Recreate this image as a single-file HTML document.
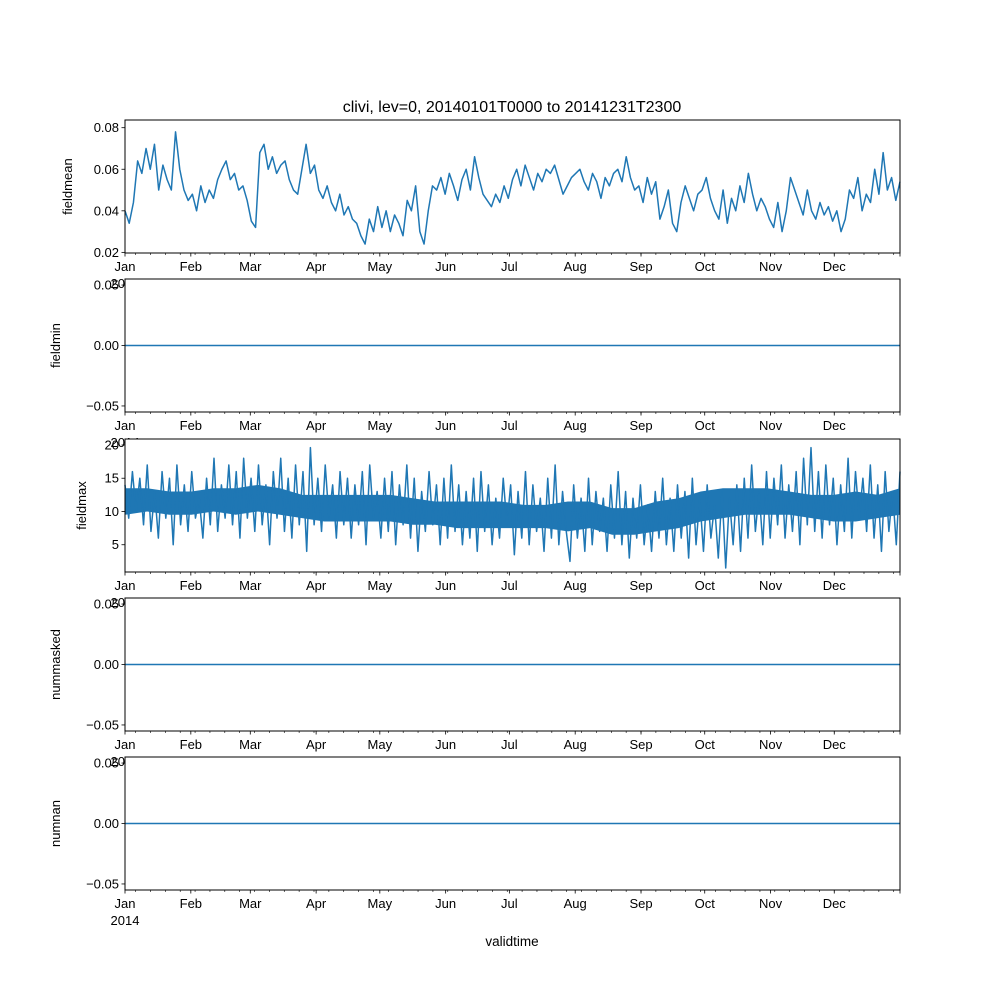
<!DOCTYPE html>
<html><head><meta charset="utf-8"><style>
html,body{margin:0;padding:0;background:#fff}
svg{display:block;font-family:"Liberation Sans","DejaVu Sans",sans-serif}
</style></head><body>
<svg id="fig" width="1000" height="1000" viewBox="0 0 1000 1000" xmlns="http://www.w3.org/2000/svg">
<rect width="1000" height="1000" fill="#fff"/>
<text x="512" y="112" font-size="16" text-anchor="middle" fill="#000">clivi, lev=0, 20140101T0000 to 20141231T2300</text>
<text x="512" y="946" font-size="13.5" text-anchor="middle" fill="#000">validtime</text>
</svg>
<script>
const monthLabels = ["Jan","Feb","Mar","Apr","May","Jun","Jul","Aug","Sep","Oct","Nov","Dec"];
const monthStarts = [0,31,59,90,120,151,181,212,243,273,304,334];
const fieldmeanValues = [
.040,.034,.044,.064,.058,.070,.060,.072,.050,.062,.055,.050,.078,.060,.050,.045,
.048,.040,.052,.044,.050,.046,.055,.060,.064,.055,.058,.050,.052,.045,
.035,.032,.068,.072,.060,.066,.058,.062,.064,.055,.050,.048,.060,.072,.058,.062,
.050,.046,.052,.044,.040,.048,.038,.042,.036,.034,.028,.024,.036,.030,.042,
.032,.040,.030,.038,.034,.028,.045,.040,.052,.030,.024,.040,.052,.050,.056,
.048,.058,.052,.045,.055,.060,.050,.066,.056,.048,.045,.042,.048,.044,.052,
.046,.055,.060,.052,.062,.056,.050,.058,.054,.060,.058,.062,.055,.048,.052,.056,
.058,.060,.054,.050,.058,.054,.046,.056,.052,.058,.060,.054,.066,.056,.050,
.052,.044,.056,.048,.054,.036,.042,.050,.034,.030,.044,.052,.046,.040,.048,
.050,.056,.046,.040,.036,.050,.034,.046,.040,.052,.044,.058,.048,.040,.046,.042,
.036,.032,.044,.030,.040,.056,.050,.044,.038,.050,.040,.036,.044,.038,.042,
.035,.040,.030,.036,.050,.046,.056,.040,.048,.044,.060,.048,.068,.050,.056,.045,.054];
const fieldmaxValues = [
14,9,16,10,15,8,17,7,13,6,16,9,15,5,17,8,14,7,16,9,12,6,15,8,18,7,14,9,17,8,
16,6,18,9,15,7,17,8,14,5,16,9,18,7,15,6,17,8,16,4,19.6,8,15,7,17,9,14,6,16,8,
15,6,14,8,16,5,17,9,13,6,15,7,16,5,14,8,17,6,15,4,13,7,16,8,14,5,15,6,17,7,
14,5,13,6,15,4,16,7,14,5,12,6,15,8,14,3.5,13,6,16,5,14,7,12,4,15,6,17,5,13,7,
2.5,14,6,12,4,15,5,13,7,12,4,14,6,16,5,13,3,12,6,14,5,11,4,13,6,15,5,12,4,14,
6,13,3,15,5,12,4,14,6,11,3,13,1.5,12,5,14,4,15,6,17,7,13,5,16,6,15,8,17,6,14,
7,16,5,18,8,19.6,7,16,6,17,8,15,5,14,7,18,6,16,9,15,7,17,6,14,4,16,7,13,5,16];
// dense core of the noisy band (half-monthly)
const fieldmaxBandHigh = [13.5,13.5,13,13,13.5,13.5,14,13.5,12.5,12.5,12.5,12.5,12.5,12,11.5,11.5,11.5,11.5,11,11,11.5,11.5,10.5,10.5,11.5,12,13,13.5,13.5,13.5,13,12.5,12.5,13,12.5,13.5];
const fieldmaxBandLow = [9.5,10,9.5,9.5,10,9.5,10,9.5,9,8.5,8.5,8.5,8.5,8,8,7.5,7.5,7.5,7.5,7.5,7,7.5,6.5,6.5,7,7.5,8.5,9,9.5,9.5,9.5,9,8.5,8.5,9,9.5];

const NS = "http://www.w3.org/2000/svg";
const svg = document.getElementById("fig");
const X0 = 125, X1 = 900, TOTAL = 364.958;
function xScale(day){ return X0 + day / TOTAL * (X1 - X0); }
function mk(tag, attrs, parent){
  const e = document.createElementNS(NS, tag);
  for (const k in attrs) e.setAttribute(k, attrs[k]);
  (parent || svg).appendChild(e);
  return e;
}

const panels = [
  {name:"fieldmean", top:120, bot:253, ymin:0.0197, ymax:0.0837, ticks:[0.02,0.04,0.06,0.08], fmt:v=>v.toFixed(2), labx:72, data:fieldmeanValues},
  {name:"fieldmin", top:279, bot:412, ymin:-0.055, ymax:0.055, ticks:[-0.05,0,0.05], fmt:v=>(v<0?"\u2212":"")+Math.abs(v).toFixed(2), labx:60, data:null},
  {name:"fieldmax", top:439, bot:572, ymin:0.9, ymax:20.9, ticks:[5,10,15,20], fmt:v=>String(v), labx:86, data:fieldmaxValues, bandHi:fieldmaxBandHigh, bandLo:fieldmaxBandLow},
  {name:"nummasked", top:598, bot:731, ymin:-0.055, ymax:0.055, ticks:[-0.05,0,0.05], fmt:v=>(v<0?"\u2212":"")+Math.abs(v).toFixed(2), labx:60, data:null},
  {name:"numnan", top:757, bot:890, ymin:-0.055, ymax:0.055, ticks:[-0.05,0,0.05], fmt:v=>(v<0?"\u2212":"")+Math.abs(v).toFixed(2), labx:60, data:null}
];

panels.forEach(p => {
  const g = mk("g", {});
  
  
  const yScale = v => p.bot - (v - p.ymin) / (p.ymax - p.ymin) * (p.bot - p.top);
  mk("rect", {x:X0, y:p.top, width:X1-X0, height:p.bot-p.top, fill:"#fff"}, g);
  if (p.bandHi) {
    const n = p.bandHi.length;
    const up = p.bandHi.map((v,i) => xScale(i*TOTAL/(n-1)).toFixed(2) + "," + yScale(v).toFixed(2));
    const lo = p.bandLo.map((v,i) => xScale(i*TOTAL/(n-1)).toFixed(2) + "," + yScale(v).toFixed(2)).reverse();
    const band = mk("polygon", {points:up.concat(lo).join(" "), fill:"#1f77b4"}, g);
    
    
  }
  let pts;
  if (p.data) {
    const n = p.data.length;
    pts = p.data.map((v,i) => xScale(i * TOTAL/(n-1)).toFixed(2) + "," + yScale(v).toFixed(2)).join(" ");
  } else {
    pts = xScale(0) + "," + yScale(0) + " " + xScale(TOTAL) + "," + yScale(0);
  }
  const line = mk("polyline", {points:pts, fill:"none", stroke:"#1f77b4", "stroke-width":1.5, "stroke-linejoin":"round"}, g);
  
  
  mk("rect", {x:X0, y:p.top, width:X1-X0, height:p.bot-p.top, fill:"none", stroke:"#000", "stroke-width":1}, g);
  p.ticks.forEach(t => {
    const y = yScale(t);
    mk("line", {x1:X0-3.5, x2:X0, y1:y, y2:y, stroke:"#000", "stroke-width":0.8}, g);
    const tx = mk("text", {x:X0-6, y:y+4.5, "font-size":13, "text-anchor":"end"}, g);
    tx.textContent = p.fmt(t);
    
    
  });
  for (let d = 5; d < TOTAL; d += 7) {
    const x = xScale(d);
    mk("line", {x1:x, x2:x, y1:p.bot, y2:p.bot+2, stroke:"#000", "stroke-width":0.6}, g);
  }
  monthStarts.concat([TOTAL]).forEach(d => {
    const x = xScale(d);
    mk("line", {x1:x, x2:x, y1:p.bot, y2:p.bot+3.5, stroke:"#000", "stroke-width":0.8}, g);
  });
  monthLabels.forEach((m,i) => {
    const tx = mk("text", {x:xScale(monthStarts[i]), y:p.bot+18, "font-size":13, "text-anchor":"middle"}, g);
    tx.textContent = m;
    
    
  });
  const yr = mk("text", {x:xScale(0), y:p.bot+35, "font-size":13, "text-anchor":"middle"}, g);
  yr.textContent = "2014";
  
  
  const yl = mk("text", {x:p.labx, y:(p.top+p.bot)/2, "font-size":13, "text-anchor":"middle", transform:"rotate(-90 " + p.labx + " " + (p.top+p.bot)/2 + ")"}, g);
  yl.textContent = p.name;
  
  
});
</script>
</body></html>
